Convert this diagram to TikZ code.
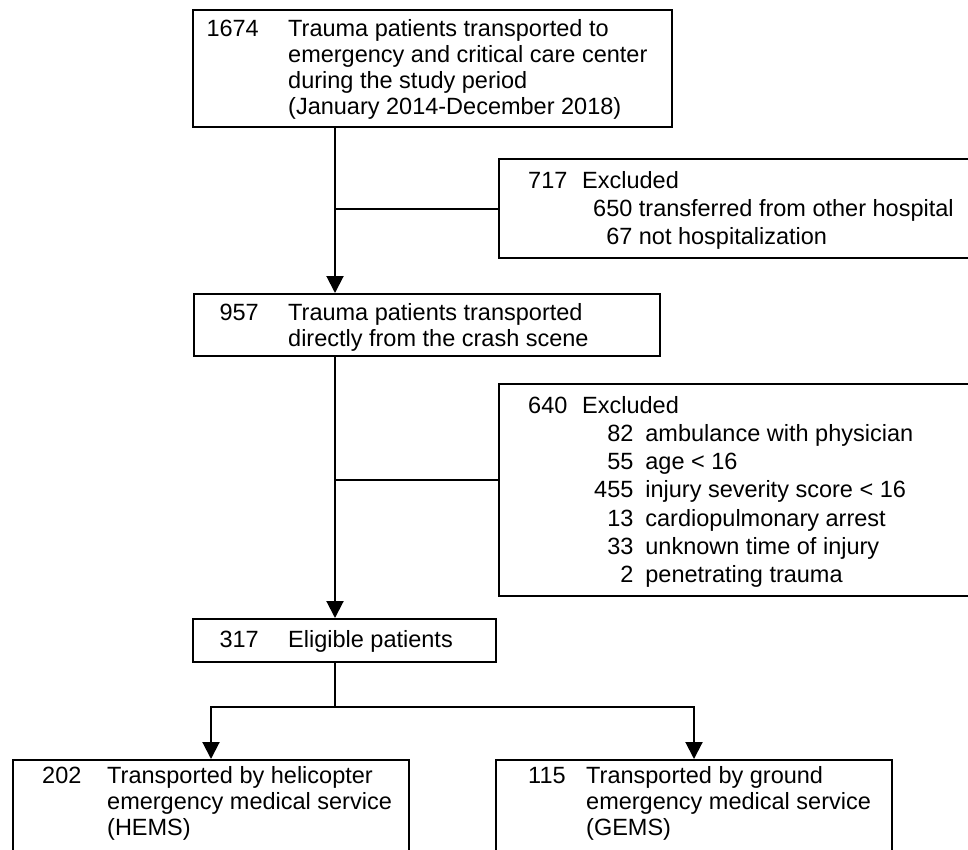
\documentclass[tikz,border=0pt]{standalone}
\usepackage{fontspec}
\setmainfont{Liberation Sans}
\usetikzlibrary{arrows.meta}
\begin{document}
\begin{tikzpicture}[x=1pt,y=-1pt,
  box/.style={draw=black, line width=2pt, rectangle, inner sep=0pt, anchor=north west},
  txt/.style={inner sep=0pt, font=\fontsize{23.5}{26}\selectfont},
  txtw/.style={inner sep=0pt, font=\fontsize{23.5}{28.3}\selectfont},
  conn/.style={line width=2pt},
  arr/.style={line width=2pt, -{Triangle[width=17pt,length=17pt]}}]
\useasboundingbox (0,0) rectangle (968,849);
\fill[white] (0,0) rectangle (968,849);
\begin{scope}
\clip (0,0) rectangle (968,849);
% boxes
\node[box, minimum width=479pt, minimum height=117pt] (b1) at (192,9) {};
\node[box, minimum width=500pt, minimum height=99pt] (e1) at (498,158) {};
\node[box, minimum width=466pt, minimum height=62pt] (b2) at (193,293) {};
\node[box, minimum width=500pt, minimum height=212pt] (e2) at (498,383) {};
\node[box, minimum width=303pt, minimum height=43pt] (b3) at (192,618) {};
\node[box, minimum width=396pt, minimum height=120pt] (b4) at (12,759) {};
\node[box, minimum width=396pt, minimum height=120pt] (b5) at (495,759) {};
% connectors
\coordinate (c1) at (335,0);
\coordinate (j1) at (335,209);
\coordinate (j2) at (335,480);
\coordinate (j3) at (335,707);
\draw[arr] (b1.south -| c1) -- (b2.north -| c1);
\draw[conn] (j1) -- (j1 -| e1.west);
\draw[arr] (b2.south -| c1) -- (b3.north -| c1);
\draw[conn] (j2) -- (j2 -| e2.west);
\draw[conn] (b3.south -| c1) -- (j3);
\draw[arr] (j3) -| (b4.north);
\draw[arr] (j3) -| (b5.north);
% texts
\node[txt, anchor=base east] (n1) at (259,36) {1674};
\node[txt, anchor=base west] (t1) at (288,36) {\begin{tabular}[t]{@{}l@{}}Trauma patients transported to\\emergency and critical care center\\during the study period\\(January 2014-December 2018)\end{tabular}};
\node[txtw, anchor=base west] (n2) at (528,188) {717};
\node[txtw, anchor=base west] (h2) at (582,188) {Excluded};
\node[txtw, anchor=base west] (t2) at (593,216.5) {\begin{tabular}[t]{@{}r@{\hspace{6.5pt}}l@{}}650 & transferred from other hospital\\67 & not hospitalization\end{tabular}};
\node[txt, anchor=base east] (n3) at (259,320) {957};
\node[txt, anchor=base west] (t3) at (288,320) {\begin{tabular}[t]{@{}l@{}}Trauma patients transported\\directly from the crash scene\end{tabular}};
\node[txtw, anchor=base west] (n4) at (528,413) {640};
\node[txtw, anchor=base west] (h4) at (582,413) {Excluded};
\node[txtw, anchor=base west] (t4) at (594,441.3) {\begin{tabular}[t]{@{}r@{\hspace{12pt}}l@{}}82 & ambulance with physician\\55 & age < 16\\455 & injury severity score < 16\\13 & cardiopulmonary arrest\\33 & unknown time of injury\\2 & penetrating trauma\end{tabular}};
\node[txt, anchor=base east] (n5) at (259,647) {317};
\node[txt, anchor=base west] (t5) at (288,647) {Eligible patients};
\node[txt, anchor=base west] (n6) at (42,783) {202};
\node[txt, anchor=base west] (t6) at (107,783) {\begin{tabular}[t]{@{}l@{}}Transported by helicopter\\emergency medical service\\(HEMS)\end{tabular}};
\node[txt, anchor=base west] (n7) at (528,783) {115};
\node[txt, anchor=base west] (t7) at (586,783) {\begin{tabular}[t]{@{}l@{}}Transported by ground\\emergency medical service\\(GEMS)\end{tabular}};
\end{scope}
\end{tikzpicture}
\end{document}
